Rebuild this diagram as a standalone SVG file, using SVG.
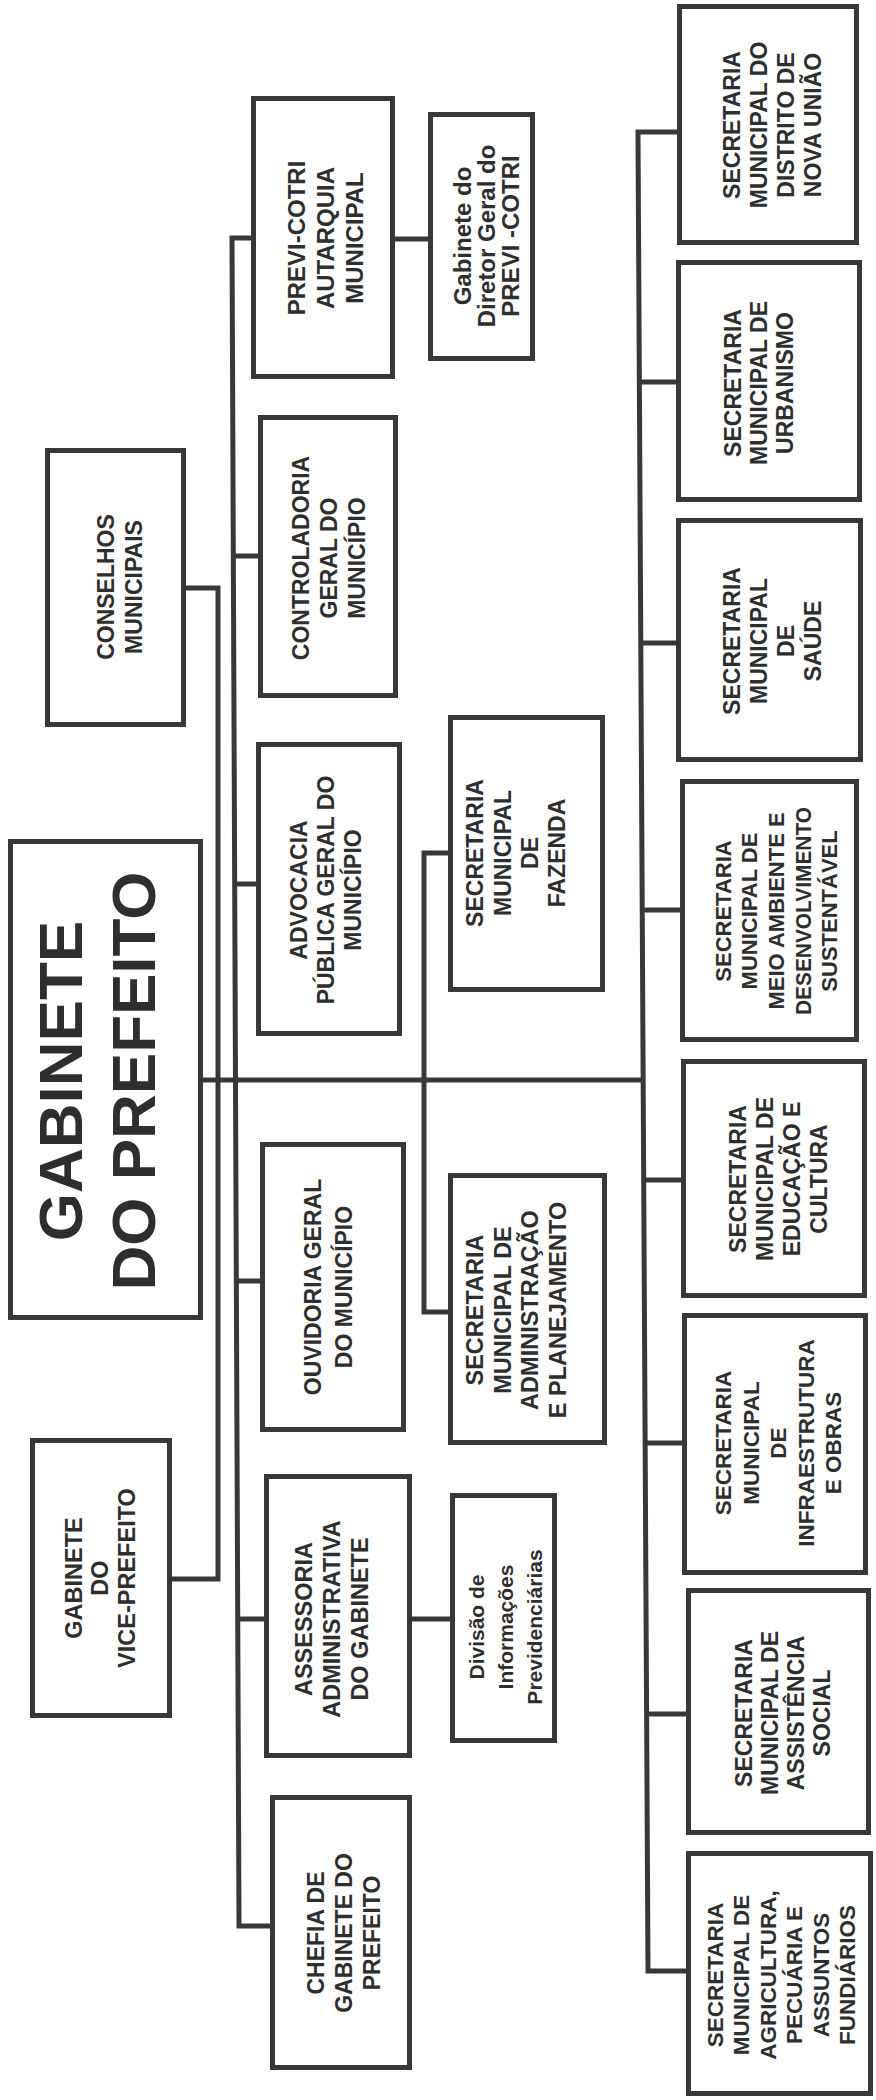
<svg xmlns="http://www.w3.org/2000/svg" width="876" height="2100" viewBox="0 0 876 2100">
<style>
.bg{fill:#ffffff}
.box{fill:#ffffff;stroke:#383838;stroke-width:5}
.ln{fill:none;stroke:#383838;stroke-width:5}
.t{font-family:"Liberation Sans",Arial,sans-serif;font-weight:bold;font-size:23px;fill:#2e2e2e;text-anchor:middle}
.big{font-size:62px}
</style>
<rect class="bg" x="0" y="0" width="876" height="2100"/>
<g id="connectors">
<path class="ln" d="M677,132 H638 L648,1971 H686"/>
<path class="ln" d="M639.4,382 H676"/>
<path class="ln" d="M640.8,643 H676"/>
<path class="ln" d="M642.2,910 H680"/>
<path class="ln" d="M643.7,1180 H681"/>
<path class="ln" d="M645.1,1443 H682"/>
<path class="ln" d="M646.6,1714 H686"/>
<path class="ln" d="M251,238 H232 L239,1926 H270"/>
<path class="ln" d="M233.3,556 H258"/>
<path class="ln" d="M234.7,884 H256"/>
<path class="ln" d="M236.3,1281 H260"/>
<path class="ln" d="M237.7,1619 H264"/>
<path class="ln" d="M186,588 H218 V1579 H172"/>
<path class="ln" d="M203,1080 H643"/>
<path class="ln" d="M448,853 H424 V1312 H448"/>
<path class="ln" d="M395,239 H428"/>
<path class="ln" d="M412,1619 H450"/>
</g>
<g id="previ"><rect class="box" x="253.5" y="98.5" width="139" height="278"/>
<text class="t" style="font-size:24px" transform="translate(325,238) rotate(-90)"><tspan x="0" y="-20.4">PREVI-COTRI</tspan><tspan x="0" y="8.6">AUTARQUIA</tspan><tspan x="0" y="37.6">MUNICIPAL</tspan></text></g>
<g id="diretor"><rect class="box" x="430.5" y="114.5" width="102" height="244"/>
<text class="t" style="font-size:24px" transform="translate(486,236) rotate(-90)"><tspan x="0" y="-15.4">Gabinete do</tspan><tspan x="0" y="8.6">Diretor Geral do</tspan><tspan x="0" y="32.6">PREVI -COTRI</tspan></text></g>
<g id="nova-uniao"><rect class="box" x="679.5" y="6.5" width="177" height="236"/>
<text class="t" transform="translate(772,125) rotate(-90)"><tspan x="0" y="-32.3">SECRETARIA</tspan><tspan x="0" y="-5.3">MUNICIPAL DO</tspan><tspan x="0" y="21.7">DISTRITO DE</tspan><tspan x="0" y="48.7">NOVA UNIÃO</tspan></text></g>
<g id="urbanismo"><rect class="box" x="678.5" y="262.5" width="181" height="237"/>
<text class="t" transform="translate(759,383) rotate(-90)"><tspan x="0" y="-17.8">SECRETARIA</tspan><tspan x="0" y="8.2">MUNICIPAL DE</tspan><tspan x="0" y="34.2">URBANISMO</tspan></text></g>
<g id="saude"><rect class="box" x="678.5" y="520.5" width="182" height="239"/>
<text class="t" transform="translate(772,641) rotate(-90)"><tspan x="0" y="-32.3">SECRETARIA</tspan><tspan x="0" y="-5.3">MUNICIPAL</tspan><tspan x="0" y="21.7">DE</tspan><tspan x="0" y="48.7">SAÚDE</tspan></text></g>
<g id="conselhos"><rect class="box" x="47.5" y="450.5" width="136" height="274"/>
<text class="t" transform="translate(120,587) rotate(-90)"><tspan x="0" y="-5.8">CONSELHOS</tspan><tspan x="0" y="22.2">MUNICIPAIS</tspan></text></g>
<g id="controladoria"><rect class="box" x="260.5" y="417.5" width="135" height="278"/>
<text class="t" transform="translate(329,558) rotate(-90)"><tspan x="0" y="-19.8">CONTROLADORIA</tspan><tspan x="0" y="8.2">GERAL DO</tspan><tspan x="0" y="36.2">MUNICÍPIO</tspan></text></g>
<g id="gabinete-prefeito"><rect class="box" x="10.5" y="841.5" width="190" height="476"/>
<text class="t big" transform="translate(96,1081) rotate(-90)"><tspan x="0" y="-14.3">GABINETE</tspan><tspan x="0" y="58.7">DO PREFEITO</tspan></text></g>
<g id="advocacia"><rect class="box" x="258.5" y="744.5" width="141" height="289"/>
<text class="t" transform="translate(326,890) rotate(-90)"><tspan x="0" y="-18.8">ADVOCACIA</tspan><tspan x="0" y="8.2">PÚBLICA GERAL DO</tspan><tspan x="0" y="35.2">MUNICÍPIO</tspan></text></g>
<g id="fazenda"><rect class="box" x="450.5" y="717.5" width="152" height="272"/>
<text class="t" transform="translate(516,853) rotate(-90)"><tspan x="0" y="-32.75">SECRETARIA</tspan><tspan x="0" y="-5.45">MUNICIPAL</tspan><tspan x="0" y="21.85">DE</tspan><tspan x="0" y="49.15">FAZENDA</tspan></text></g>
<g id="meio-ambiente"><rect class="box" x="682.5" y="781.5" width="174" height="258"/>
<text class="t" style="font-size:22px" transform="translate(776,911) rotate(-90)"><tspan x="0" y="-45.5">SECRETARIA</tspan><tspan x="0" y="-18.8">MUNICIPAL DE</tspan><tspan x="0" y="7.9">MEIO AMBIENTE E</tspan><tspan x="0" y="34.6" textLength="208" lengthAdjust="spacingAndGlyphs">DESENVOLVIMENTO</tspan><tspan x="0" y="61.3">SUSTENTÁVEL</tspan></text></g>
<g id="educacao"><rect class="box" x="683.5" y="1061.5" width="181" height="234"/>
<text class="t" transform="translate(778,1179) rotate(-90)"><tspan x="0" y="-32.3">SECRETARIA</tspan><tspan x="0" y="-5.3">MUNICIPAL DE</tspan><tspan x="0" y="21.7">EDUCAÇÃO E</tspan><tspan x="0" y="48.7">CULTURA</tspan></text></g>
<g id="ouvidoria"><rect class="box" x="262.5" y="1144.5" width="141" height="285"/>
<text class="t" transform="translate(328,1287) rotate(-90)"><tspan x="0" y="-7.3">OUVIDORIA GERAL</tspan><tspan x="0" y="23.7">DO MUNICÍPIO</tspan></text></g>
<g id="administracao"><rect class="box" x="450.5" y="1175.5" width="154" height="267"/>
<text class="t" style="font-size:23.5px" transform="translate(516,1310) rotate(-90)"><tspan x="0" y="-32.85">SECRETARIA</tspan><tspan x="0" y="-5.35">MUNICIPAL DE</tspan><tspan x="0" y="22.15">ADMINISTRAÇÃO</tspan><tspan x="0" y="49.65">E PLANEJAMENTO</tspan></text></g>
<g id="infraestrutura"><rect class="box" x="684.5" y="1315.5" width="181" height="257"/>
<text class="t" style="font-size:22.5px" transform="translate(778,1443) rotate(-90)"><tspan x="0" y="-46.9">SECRETARIA</tspan><tspan x="0" y="-19.4">MUNICIPAL</tspan><tspan x="0" y="8.1">DE</tspan><tspan x="0" y="35.6">INFRAESTRUTURA</tspan><tspan x="0" y="63.1">E OBRAS</tspan></text></g>
<g id="vice-prefeito"><rect class="box" x="32.5" y="1440.5" width="137" height="275"/>
<text class="t" style="font-size:23.5px" transform="translate(100,1578) rotate(-90)"><tspan x="0" y="-18.1">GABINETE</tspan><tspan x="0" y="8.4">DO</tspan><tspan x="0" y="34.9">VICE-PREFEITO</tspan></text></g>
<g id="assessoria"><rect class="box" x="266.5" y="1476.5" width="143" height="279"/>
<text class="t" style="font-size:23.5px" transform="translate(332,1619) rotate(-90)"><tspan x="0" y="-19.6">ASSESSORIA</tspan><tspan x="0" y="8.4">ADMINISTRATIVA</tspan><tspan x="0" y="36.4">DO GABINETE</tspan></text></g>
<g id="divisao"><rect class="box" x="452.5" y="1495.5" width="102" height="245"/>
<text class="t" style="font-size:21px" transform="translate(505,1627) rotate(-90)"><tspan x="0" y="-21.5">Divisão de</tspan><tspan x="0" y="7.5">Informações</tspan><tspan x="0" y="36.5">Previdenciárias</tspan></text></g>
<g id="chefia"><rect class="box" x="272.5" y="1797.5" width="137" height="270"/>
<text class="t" transform="translate(344,1933) rotate(-90)"><tspan x="0" y="-19.8">CHEFIA DE</tspan><tspan x="0" y="8.2">GABINETE DO</tspan><tspan x="0" y="36.2">PREFEITO</tspan></text></g>
<g id="assistencia"><rect class="box" x="688.5" y="1590.5" width="180" height="242"/>
<text class="t" transform="translate(783,1713) rotate(-90)"><tspan x="0" y="-30.8">SECRETARIA</tspan><tspan x="0" y="-4.8">MUNICIPAL DE</tspan><tspan x="0" y="21.2">ASSISTÊNCIA</tspan><tspan x="0" y="47.2">SOCIAL</tspan></text></g>
<g id="agricultura"><rect class="box" x="688.5" y="1853.5" width="182" height="240"/>
<text class="t" style="font-size:22.5px" transform="translate(781,1975) rotate(-90)"><tspan x="0" y="-58.15">SECRETARIA</tspan><tspan x="0" y="-31.65">MUNICIPAL DE</tspan><tspan x="0" y="-5.15">AGRICULTURA,</tspan><tspan x="0" y="21.35">PECUÁRIA E</tspan><tspan x="0" y="47.85">ASSUNTOS</tspan><tspan x="0" y="74.35">FUNDIÁRIOS</tspan></text></g>
</svg>
